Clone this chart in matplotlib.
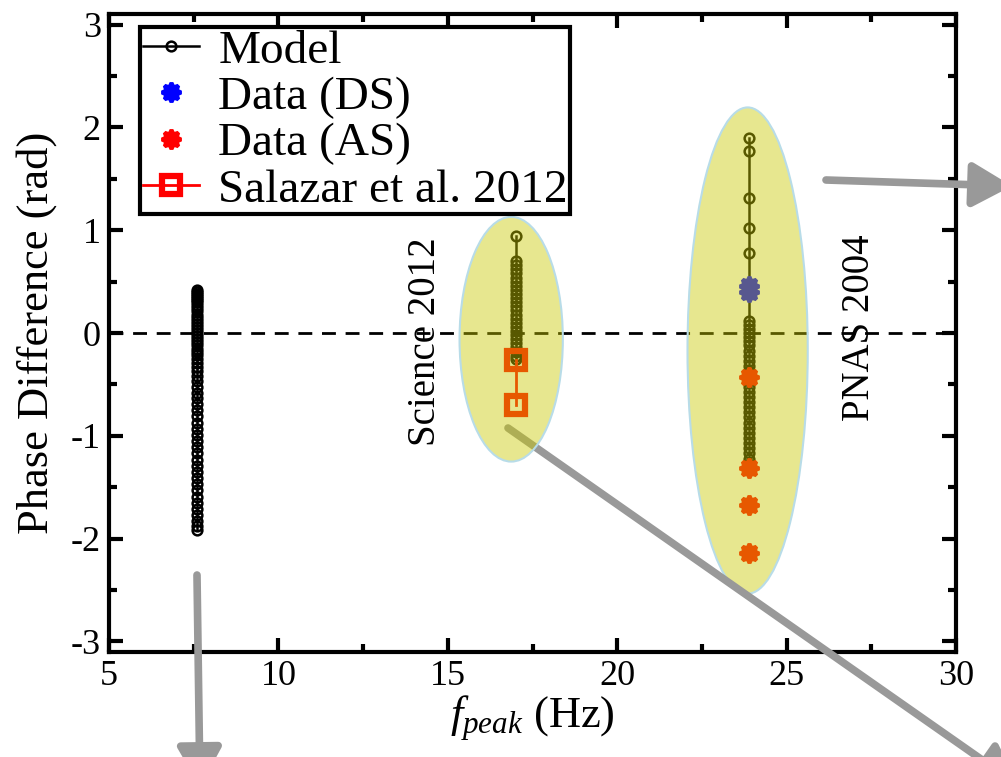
import numpy as np
import matplotlib
matplotlib.use('Agg')
import matplotlib.pyplot as plt
from matplotlib.patches import Ellipse
from matplotlib.legend_handler import HandlerLine2D
from matplotlib.ticker import MultipleLocator

plt.rcParams['font.family'] = 'Liberation Serif'
plt.rcParams['mathtext.fontset'] = 'custom'
plt.rcParams['mathtext.rm'] = 'Liberation Serif'
plt.rcParams['mathtext.it'] = 'Liberation Serif:italic'
plt.rcParams['axes.unicode_minus'] = False

# model columns (f_peak in Hz, phase difference in rad)
model_f = [7.6, 17.0, 23.9]
model_low = [0.42, 0.40, 0.38, 0.36, 0.34, 0.32, 0.30, 0.27, 0.24, 0.21, 0.18,
             0.15, 0.12, 0.09, 0.06, 0.03, 0.00, -0.03, -0.06, -0.09, -0.12,
             -0.15, -0.18, -0.21, -0.25, -0.29, -0.33, -0.37, -0.42, -0.47,
             -0.52, -0.58, -0.63, -0.69, -0.75, -0.81, -0.87, -0.93, -0.99,
             -1.05, -1.11, -1.17, -1.23, -1.29, -1.35, -1.41, -1.47, -1.53,
             -1.59, -1.65, -1.71, -1.77, -1.83, -1.88, -1.92]
model_mid = [0.94, 0.70, 0.66, 0.62, 0.58, 0.54, 0.50, 0.46, 0.42, 0.38, 0.34,
             0.30, 0.26, 0.22, 0.18, 0.14, 0.10, 0.06, 0.02, -0.02, -0.06,
             -0.10, -0.14, -0.18, -0.22, -0.25]
model_high = [1.90, 1.77, 1.31, 1.02, 0.78, 0.42, 0.12, 0.08, 0.04, 0.00,
              -0.04, -0.08, -0.12, -0.17, -0.22, -0.27, -0.32, -0.37, -0.42,
              -0.47, -0.52, -0.57, -0.62, -0.67, -0.72, -0.77, -0.82, -0.87,
              -0.92, -0.97, -1.02, -1.07, -1.12, -1.17, -1.22, -1.27, -1.30]

ds_f = [23.9, 23.9]
ds_phase = [0.46, 0.40]
as_f = [23.9, 23.9, 23.9, 23.9]
as_phase = [-0.43, -1.31, -1.67, -2.14]
salazar_f = [17.0, 17.0]
salazar_phase = [-0.26, -0.70]

xticks = [5, 10, 15, 20, 25, 30]
yticks = [-3, -2, -1, 0, 1, 2, 3]

# cog shaped marker for the data points
ang = []
rad = []
for k in range(8):
    c = k * np.pi / 4
    ang += [c - 0.39, c - 0.17, c + 0.17]
    rad += [0.78, 1.0, 1.0]
ang = np.array(ang)
rad = np.array(rad)
cog = list(zip(rad * np.cos(ang), rad * np.sin(ang)))

fig = plt.figure(figsize=(10.01, 7.57), dpi=100)
ax = fig.add_axes([0.109, 0.139, 0.846, 0.842])

ax.axhline(0, color='k', ls=(0, (5, 3.5)), lw=2, zorder=1)

mk = dict(color='k', marker='o', mfc='none', mec='k', ms=7, mew=1.8, lw=1.8, zorder=2)
l_model, = ax.plot([model_f[0]] * len(model_low), model_low, label='Model', **mk)
ax.plot([model_f[1]] * len(model_mid), model_mid, **mk)
ax.plot([model_f[2]] * len(model_high), model_high, **mk)

l_ds, = ax.plot(ds_f, ds_phase, ls='none', marker=cog, color='#0000ff', ms=15,
                mew=0, label='Data (DS)', zorder=2)
l_as, = ax.plot(as_f, as_phase, ls='none', marker=cog, color='#ff0000', ms=15,
                mew=0, label='Data (AS)', zorder=2)
l_sal, = ax.plot(salazar_f, salazar_phase, color='#ff0000', marker='s', mfc='none',
                 mec='#ff0000', ms=13, mew=4.5, lw=2, label='Salazar et al. 2012',
                 zorder=2)

# highlight ellipses
ax.add_patch(Ellipse((16.87, -0.06), 3.05, 2.38, facecolor='#caca00', alpha=0.44,
                     edgecolor='none', zorder=5))
ax.add_patch(Ellipse((16.87, -0.06), 3.05, 2.38, facecolor='none',
                     edgecolor='#b8dce8', lw=1.5, zorder=5))
ax.add_patch(Ellipse((23.85, -0.17), 3.55, 4.73, facecolor='#caca00', alpha=0.44,
                     edgecolor='none', zorder=3))
ax.add_patch(Ellipse((23.85, -0.17), 3.55, 4.73, facecolor='none',
                     edgecolor='#b8dce8', lw=1.5, zorder=3))

ax.text(14.35, -0.08, 'Science 2012', rotation=90, ha='center', va='center',
        fontsize=28, zorder=6)
ax.text(27.15, 0.05, 'PNAS 2004', rotation=90, ha='center', va='center',
        fontsize=28, zorder=6)

# grey arrows
arr = dict(arrowstyle='-|>,head_width=0.45,head_length=0.8', lw=5.5,
           color='#999999', mutation_scale=30, shrinkA=0, shrinkB=0)
ax.annotate('', xy=(200, -30), xytext=(197, 182), xycoords='figure pixels',
            arrowprops=arr, zorder=4)
ax.annotate('', xy=(1012, 571), xytext=(826, 577), xycoords='figure pixels',
            arrowprops=arr, zorder=4)
ax.annotate('', xy=(1018, -28), xytext=(508, 329), xycoords='figure pixels',
            arrowprops=arr, zorder=4)

ax.set_xlim(5, 30)
ax.set_ylim(-3.1, 3.1)
ax.set_xticks(xticks)
ax.set_yticks(yticks)
ax.xaxis.set_minor_locator(MultipleLocator(2.5))
ax.yaxis.set_minor_locator(MultipleLocator(0.5))
ax.tick_params(which='both', direction='in', top=True, right=True, width=3,
               labelsize=26, pad=6)
ax.tick_params(which='major', length=10)
ax.tick_params(which='minor', length=6)
for s in ax.spines.values():
    s.set_linewidth(3)

ax.set_xlabel(r'$f_{peak}$ (Hz)', fontsize=32, labelpad=0)
ax.set_ylabel('Phase Difference (rad)', fontsize=32, labelpad=10)

leg = ax.legend(handles=[l_model, l_ds, l_as, l_sal], loc='upper left',
                bbox_to_anchor=(0.037, 0.98), borderaxespad=0, fontsize=34,
                handlelength=1.2, handletextpad=0.4, labelspacing=0.07,
                borderpad=0.05, fancybox=False, framealpha=1,
                handler_map={l_ds: HandlerLine2D(numpoints=1),
                             l_as: HandlerLine2D(numpoints=1)})
leg.get_frame().set_edgecolor('k')
leg.get_frame().set_linewidth(3)
leg.set_zorder(7)

fig.savefig('out.png', dpi=100)
